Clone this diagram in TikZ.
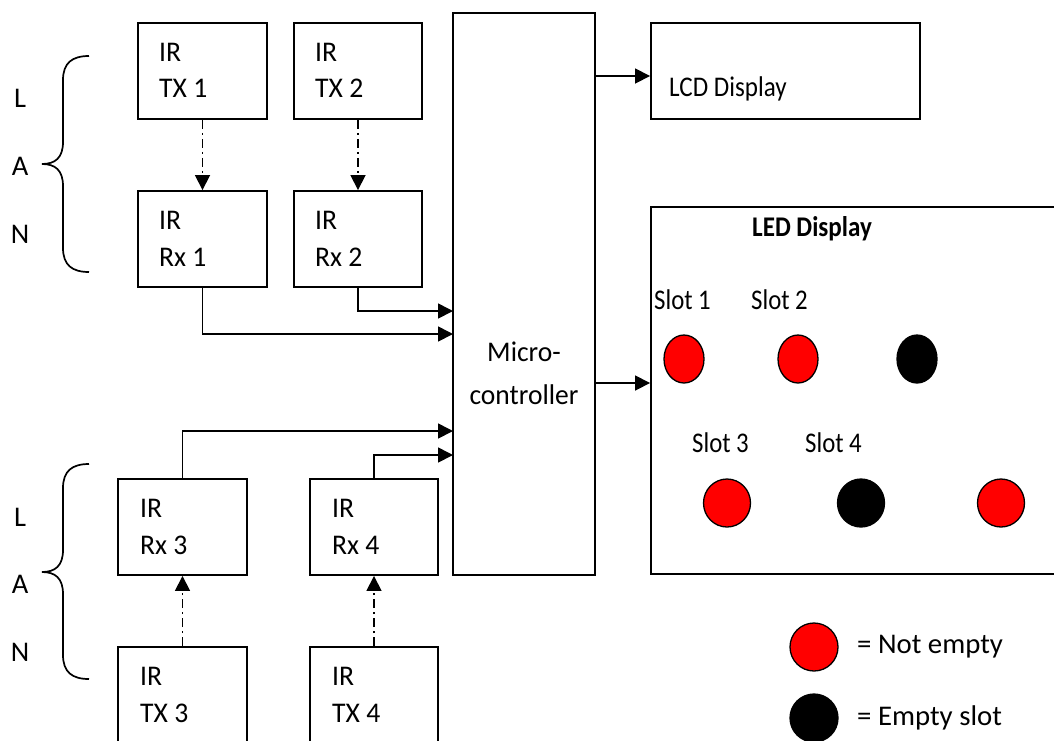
\documentclass[tikz,border=0pt]{standalone}
\usepackage{fontspec}
\setmainfont{Carlito}
\usetikzlibrary{arrows.meta,shapes.geometric}
\newcommand{\txtfont}[1]{\fontsize{28.5}{30}\selectfont\addfontfeature{FakeStretch=#1}}
\tikzset{
  box/.style={draw,line width=1.9pt,rectangle,inner sep=0pt},
  irbox/.style={box,minimum width=129pt,minimum height=96pt},
  conn/.style={line width=1.7pt,-{Triangle[length=15pt,width=15pt]}},
  irlink/.style={line width=1.7pt,dash pattern=on 9pt off 4pt on 2pt off 4pt,-{Triangle[length=15pt,width=15pt]}},
  lbl/.style={font=\txtfont{1},inner sep=0pt},
  boxlbl/.style={lbl,anchor=west,font=\txtfont{0.97}},
  slotlbl/.style={lbl,anchor=west,font=\txtfont{0.87}},
  brace/.style={line width=1.7pt},
  full/.style={ellipse,draw,line width=1.3pt,fill=red,inner sep=0pt},
  empty/.style={ellipse,draw,line width=1.3pt,fill=black,inner sep=0pt},
}
\begin{document}
\begin{tikzpicture}[x=1pt,y=-1pt]
\clip (0,0) rectangle (1054,740);
\fill[white] (0,0) rectangle (1054,740);
% IR boxes
\node[irbox] (tx1) at (202.5,71) {};
\node[irbox,minimum width=128pt] (tx2) at (358,71) {};
\node[irbox] (rx1) at (202.5,239) {};
\node[irbox,minimum width=128pt] (rx2) at (358,239) {};
\node[irbox] (rx3) at (182.5,527) {};
\node[irbox,minimum width=128pt] (rx4) at (374,527) {};
\node[irbox,minimum height=104pt] (tx3) at (182.5,699) {};
\node[irbox,minimum width=128pt,minimum height=104pt] (tx4) at (374,699) {};
\node[boxlbl] (tx1a) at (159,52) {IR};
\node[boxlbl] (tx1b) at (159,88) {TX 1};
\node[boxlbl] (tx2a) at (315,52) {IR};
\node[boxlbl] (tx2b) at (315,88) {TX 2};
\node[boxlbl] (rx1a) at (159,220) {IR};
\node[boxlbl] (rx1b) at (159,257) {Rx 1};
\node[boxlbl] (rx2a) at (315,220) {IR};
\node[boxlbl] (rx2b) at (315,257) {Rx 2};
\node[boxlbl] (rx3a) at (140,508) {IR};
\node[boxlbl] (rx3b) at (140,545) {Rx 3};
\node[boxlbl] (rx4a) at (332,508) {IR};
\node[boxlbl] (rx4b) at (332,545) {Rx 4};
\node[boxlbl] (tx3a) at (140,676) {IR};
\node[boxlbl] (tx3b) at (140,713) {TX 3};
\node[boxlbl] (tx4a) at (332,676) {IR};
\node[boxlbl] (tx4b) at (332,713) {TX 4};
% microcontroller
\node[box,minimum width=142pt,minimum height=562pt] (micro) at (524,294) {};
\node[lbl,align=center,font=\txtfont{0.965}\fontsize{28.5}{43}\selectfont] (microtext) at (524,373) {Micro-\\controller};
% LCD
\node[box,minimum width=269pt,minimum height=96pt] (lcd) at (785.5,71) {};
\node[slotlbl,font=\txtfont{0.88}] (lcdtext) at (669,89) {LCD Display};
% LED
\node[box,minimum width=440pt,minimum height=367pt] (led) at (871,390.5) {};
\node[lbl,font=\txtfont{0.88}\bfseries] (ledtitle) at (812,229) {LED Display};
\node[slotlbl] (s1) at (654,300) {Slot 1};
\node[slotlbl] (s2) at (751,300) {Slot 2};
\node[slotlbl] (s3) at (692,443) {Slot 3};
\node[slotlbl] (s4) at (805,443) {Slot 4};
\node[full,minimum width=40pt,minimum height=48pt] (c1) at (684,359) {};
\node[full,minimum width=40pt,minimum height=48pt] (c2) at (798,359) {};
\node[empty,minimum width=40pt,minimum height=48pt] (c3) at (917,359) {};
\node[full,minimum width=47pt,minimum height=48pt] (c4) at (727,503) {};
\node[empty,minimum width=47pt,minimum height=48pt] (c5) at (861,503) {};
\node[full,minimum width=47pt,minimum height=48pt] (c6) at (1001,503) {};
% legend
\node[full,minimum width=48pt,minimum height=48pt] (lg1) at (814,647) {};
\node[empty,minimum width=48pt,minimum height=48pt] (lg2) at (814,718) {};
\node[lbl,anchor=west,font=\txtfont{1.01}] (lg1t) at (857,647) {= Not empty};
\node[lbl,anchor=west,font=\txtfont{1.01}] (lg2t) at (857,718) {= Empty slot};
% LAN labels
\node[lbl] (l1) at (20,98) {L};
\node[lbl] (a1) at (20,166) {A};
\node[lbl] (n1) at (20,234) {N};
\node[lbl] (l2) at (20,517) {L};
\node[lbl] (a2) at (20,584) {A};
\node[lbl] (n2) at (20,652) {N};
% braces
\draw[brace] (89,56) .. controls (72,56) and (63,63) .. (63,80) -- (63,142)
  .. controls (63,158) and (55,164) .. (42,164)
  .. controls (55,164) and (63,170) .. (63,186) -- (63,248)
  .. controls (63,265) and (72,272) .. (89,272);
\draw[brace] (89,464) .. controls (72,464) and (63,471) .. (63,488) -- (63,550)
  .. controls (63,566) and (55,572) .. (42,572)
  .. controls (55,572) and (63,578) .. (63,594) -- (63,655)
  .. controls (63,672) and (72,679) .. (89,679);
% IR links
\draw[irlink] (tx1.south) -- (rx1.north);
\draw[irlink] (tx2.south) -- (rx2.north);
\draw[irlink] (tx3.north) -- (rx3.south);
\draw[irlink] (tx4.north) -- (rx4.south);
% receivers to micro
\coordinate (m1) at (453,311);
\coordinate (m2) at (453,334);
\coordinate (m3) at (453,431);
\coordinate (m4) at (453,455);
\draw[conn] (rx2.south) |- (m1);
\draw[conn] (rx1.south) |- (m2);
\draw[conn] (rx3.north) |- (m3);
\draw[conn] (rx4.north) |- (m4);
% micro outputs
\coordinate (o1) at (595,76);
\coordinate (o2) at (595,383);
\draw[conn] (o1) -- (lcd.west |- o1);
\draw[conn] (o2) -- (led.west |- o2);
\end{tikzpicture}
\end{document}
